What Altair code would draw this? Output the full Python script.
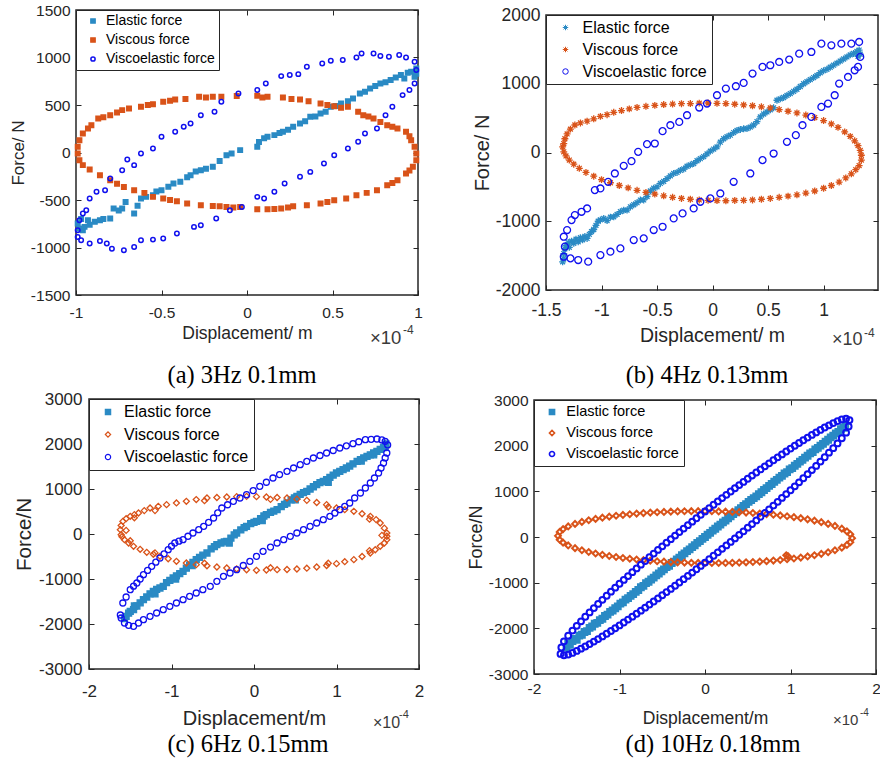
import altair as alt
import pandas as pd

# ---------------- colours / fonts ----------------
EL_COLOR = "#2a8ac4"
VI_COLOR = "#d95319"
VE_COLOR = "#1010ee"
TXT = "#262626"
SANS = "Liberation Sans"
SERIF = "Liberation Serif"
SERIES = ["Elastic force", "Viscous force", "Viscoelastic force"]
ASTERISK = "M-1,0L1,0M0,-1L0,1M-0.7,-0.7L0.7,0.7M-0.7,0.7L0.7,-0.7"

# ---------------- data: (displacement [1e-4 m], force [N]) ----------------
# (a) 3Hz 0.1mm
A_ELASTIC = [(-0.99,-748),(-0.98,-800),(-0.97,-700),(-0.96,-818),(-0.95,-783),(-0.93,-713),(-0.92,-760),
    (-0.89,-730),(-0.86,-713),(-0.84,-700),(-0.80,-695),(-0.78,-590),(-0.75,-610),(-0.73,-590),(-0.71,-520),
    (-0.66,-643),(-0.64,-560),(-0.62,-485),(-0.59,-467),(-0.55,-450),(-0.53,-410),(-0.50,-397),(-0.46,-360),
    (-0.43,-327),(-0.39,-309),(-0.35,-260),(-0.33,-239),(-0.30,-200),(-0.27,-186),(-0.24,-170),(-0.20,-151),
    (-0.16,-90),(-0.12,-28),(-0.09,-10),(-0.04,25),(0.06,60),(0.07,110),(0.10,150),(0.12,165),(0.16,183),
    (0.19,205),(0.21,218),(0.24,240),(0.27,270),(0.31,306),(0.34,330),(0.37,376),(0.40,380),(0.43,411),
    (0.46,430),(0.49,481),(0.52,490),(0.55,516),(0.59,540),(0.62,569),(0.66,622),(0.69,640),(0.72,674),
    (0.75,700),(0.78,727),(0.81,740),(0.84,762),(0.87,790),(0.90,815),(0.92,780),(0.94,840),(0.96,850),
    (0.98,797),(0.99,885),(0.99,830)]
A_VISCOUS = [(-0.99,60),(-0.98,130),(-0.96,200),(-0.93,253),(-0.91,288),(-0.87,358),(-0.84,370),(-0.80,393),
    (-0.76,420),(-0.73,446),(-0.69,464),(-0.62,481),(-0.58,500),(-0.55,509),(-0.49,534),(-0.45,545),(-0.42,558),
    (-0.36,562),(-0.28,587),(-0.24,580),(-0.20,587),(-0.15,587),(-0.06,594),(0.06,597),(0.09,580),(0.12,587),
    (0.21,580),(0.26,562),(0.31,558),(0.36,540),(0.43,516),(0.47,500),(0.51,488),(0.55,470),(0.59,481),
    (0.65,428),(0.68,393),(0.71,380),(0.74,358),(0.78,320),(0.82,288),(0.85,270),(0.88,253),(0.93,218),
    (0.95,170),(0.96,130),(0.98,60),(0.99,-10),(0.99,-81),(0.97,-151),(0.95,-190),(0.93,-221),(0.88,-292),
    (0.85,-320),(0.82,-344),(0.76,-397),(0.70,-425),(0.64,-450),(0.58,-485),(0.51,-502),(0.47,-520),
    (0.43,-537),(0.35,-555),(0.27,-566),(0.24,-580),(0.20,-590),(0.16,-595),(0.12,-597),(0.06,-597),
    (-0.04,-573),(-0.08,-580),(-0.12,-573),(-0.16,-565),(-0.20,-562),(-0.27,-555),(-0.35,-537),(-0.41,-513),
    (-0.45,-500),(-0.49,-485),(-0.55,-467),(-0.60,-425),(-0.66,-397),(-0.72,-362),(-0.76,-330),(-0.80,-292),
    (-0.86,-239),(-0.92,-179),(-0.96,-133),(-0.98,-81),(-0.99,-10)]
A_VISCOELASTIC = [(-0.99,-818),(-0.98,-713),(-0.96,-643),(-0.94,-608),(-0.92,-485),(-0.88,-414),(-0.83,-397),
    (-0.80,-274),(-0.73,-186),(-0.70,-74),(-0.66,-133),(-0.62,-10),(-0.55,42),(-0.50,165),(-0.42,218),
    (-0.37,270),(-0.33,306),(-0.27,393),(-0.19,428),(-0.15,534),(-0.05,622),(0.06,657),(0.11,727),(0.20,804),
    (0.25,815),(0.30,825),(0.35,903),(0.44,938),(0.49,966),(0.56,973),(0.64,1001),(0.67,1043),(0.74,1043),
    (0.78,1015),(0.83,1008),(0.89,1026),(0.93,1001),(0.98,955),(0.99,868),(0.98,727),(0.95,657),(0.91,604),
    (0.85,481),(0.81,393),(0.76,253),(0.69,200),(0.65,112),(0.59,42),(0.51,-28),(0.45,-116),(0.37,-204),
    (0.31,-256),(0.22,-327),(0.16,-414),(0.10,-485),(0.06,-467),(-0.03,-573),(-0.10,-608),(-0.18,-695),
    (-0.27,-766),(-0.31,-783),(-0.41,-853),(-0.49,-906),(-0.55,-917),(-0.62,-924),(-0.66,-994),(-0.72,-1029),
    (-0.79,-1012),(-0.82,-959),(-0.86,-931),(-0.92,-959),(-0.97,-924),(-0.99,-889)]

# (b) 4Hz 0.13mm
B_ELASTIC = [(-1.35,-1590),(-1.34,-1540),(-1.34,-1470),(-1.33,-1400),(-1.32,-1350),(-1.30,-1310),(-1.29,-1380),
    (-1.27,-1290),(-1.25,-1320),(-1.23,-1260),(-1.21,-1300),(-1.19,-1240),(-1.17,-1270),(-1.15,-1220),
    (-1.13,-1250),(-1.11,-1190),(-1.09,-1150),(-1.07,-1120),(-1.05,-1060),(-1.03,-1000),(-1.01,-980),
    (-0.98,-960),(-0.95,-990),(-0.92,-940),(-0.89,-935),(-0.86,-900),(-0.83,-860),(-0.80,-840),(-0.77,-838),
    (-0.74,-790),(-0.71,-760),(-0.68,-730),(-0.65,-692),(-0.62,-690),(-0.59,-640),(-0.56,-560),(-0.53,-520),
    (-0.50,-499),(-0.47,-450),(-0.44,-420),(-0.41,-380),(-0.38,-340),(-0.35,-305),(-0.32,-290),(-0.29,-260),
    (-0.26,-240),(-0.23,-200),(-0.20,-180),(-0.17,-160),(-0.14,-120),(-0.11,-90),(-0.08,-60),(-0.05,-20),
    (-0.02,20),(0.01,50),(0.04,82),(0.07,150),(0.10,200),(0.13,230),(0.16,252),(0.19,290),(0.22,320),
    (0.25,335),(0.28,345),(0.31,349),(0.34,370),(0.37,400),(0.40,450),(0.43,518),(0.46,560),(0.49,590),
    (0.52,620),(0.55,650),(0.58,760),(0.61,780),(0.64,800),(0.67,830),(0.70,857),(0.73,890),(0.76,920),
    (0.79,960),(0.82,1000),(0.85,1030),(0.88,1060),(0.91,1090),(0.94,1120),(0.97,1160),(1.00,1190),
    (1.03,1210),(1.06,1240),(1.09,1270),(1.12,1300),(1.15,1330),(1.18,1360),(1.21,1390),(1.24,1420),
    (1.27,1440),(1.30,1470),(1.32,1490),(1.33,1430),(1.31,1400)]
B_VISCOUS = [(-1.35,82),(-1.34,130),(-1.33,200),(-1.31,270),(-1.28,340),(-1.24,400),(-1.19,430),(-1.13,455),
    (-1.07,490),(-1.01,525),(-0.95,550),(-0.89,585),(-0.82,610),(-0.75,635),(-0.68,655),(-0.60,672),
    (-0.52,685),(-0.44,698),(-0.36,705),(-0.28,710),(-0.20,712),(-0.12,718),(-0.04,720),(0.04,716),
    (0.12,712),(0.20,702),(0.28,692),(0.36,680),(0.44,665),(0.52,648),(0.60,625),(0.68,600),(0.76,575),
    (0.84,545),(0.92,508),(1.00,465),(1.07,415),(1.13,365),(1.19,300),(1.24,235),(1.28,170),(1.31,100),
    (1.33,30),(1.34,-40),(1.34,-110),(1.32,-190),(1.29,-250),(1.25,-310),(1.20,-370),(1.14,-430),
    (1.07,-480),(1.00,-520),(0.92,-560),(0.84,-590),(0.76,-615),(0.68,-635),(0.60,-652),(0.52,-668),
    (0.44,-680),(0.36,-690),(0.28,-695),(0.20,-698),(0.12,-702),(0.04,-700),(-0.04,-695),(-0.12,-690),
    (-0.20,-680),(-0.28,-668),(-0.36,-652),(-0.44,-630),(-0.52,-605),(-0.60,-580),(-0.68,-550),(-0.76,-515),
    (-0.84,-480),(-0.92,-440),(-1.00,-395),(-1.07,-345),(-1.14,-290),(-1.20,-230),(-1.25,-170),(-1.29,-110),
    (-1.32,-50),(-1.34,10)]
B_VISCOELASTIC = [(-1.34,-1225),(-1.31,-1128),(-1.27,-983),(-1.24,-910),(-1.18,-862),(-1.13,-814),(-1.06,-547),
    (-1.01,-523),(-0.94,-426),(-0.88,-305),(-0.80,-194),(-0.73,-126),(-0.67,10),(-0.59,121),(-0.52,131),
    (-0.45,310),(-0.38,397),(-0.30,445),(-0.23,542),(-0.12,654),(-0.05,712),(0.04,833),(0.12,930),(0.21,964),
    (0.28,1012),(0.36,1148),(0.45,1245),(0.52,1269),(0.60,1317),(0.69,1351),(0.78,1438),(0.89,1462),
    (0.98,1583),(1.07,1559),(1.16,1583),(1.25,1583),(1.32,1608),(1.33,1390),(1.31,1245),(1.28,1196),
    (1.22,1099),(1.14,1002),(1.10,833),(1.04,712),(0.98,663),(0.89,518),(0.81,397),(0.75,252),(0.67,155),
    (0.55,-15),(0.45,-111),(0.34,-305),(0.19,-426),(0.07,-596),(-0.02,-668),(-0.11,-717),(-0.17,-814),
    (-0.27,-886),(-0.35,-959),(-0.45,-1080),(-0.53,-1128),(-0.62,-1249),(-0.71,-1274),(-0.83,-1395),
    (-0.92,-1443),(-1.01,-1492),(-1.12,-1588),(-1.21,-1564),(-1.28,-1540),(-1.34,-1516),(-1.33,-1370)]

# (c) 6Hz 0.15mm
C_ELASTIC = [(-1.57,-1880),(-1.55,-1830),(-1.52,-1760),(-1.50,-1720),(-1.46,-1681),(-1.42,-1600),(-1.38,-1530),
    (-1.34,-1459),(-1.30,-1400),(-1.26,-1330),(-1.22,-1274),(-1.18,-1230),(-1.14,-1200),(-1.10,-1163),
    (-1.06,-1080),(-1.02,-1030),(-0.98,-978),(-0.94,-930),(-0.90,-880),(-0.86,-830),(-0.82,-760),(-0.78,-690),
    (-0.74,-630),(-0.70,-570),(-0.66,-520),(-0.62,-470),(-0.57,-422),(-0.52,-330),(-0.48,-280),(-0.45,-237),
    (-0.40,-200),(-0.36,-175),(-0.33,-163),(-0.28,-90),(-0.24,-20),(-0.21,22),(-0.16,90),(-0.12,140),
    (-0.09,170),(-0.04,230),(0.00,260),(0.03,281),(0.08,340),(0.12,400),(0.15,430),(0.20,480),(0.24,510),
    (0.28,541),(0.33,610),(0.37,660),(0.40,689),(0.45,760),(0.49,800),(0.52,837),(0.56,880),(0.60,920),
    (0.64,948),(0.68,1000),(0.72,1050),(0.76,1096),(0.80,1140),(0.84,1170),(0.88,1207),(0.92,1260),
    (0.96,1310),(1.00,1356),(1.04,1390),(1.08,1430),(1.12,1467),(1.16,1510),(1.20,1560),(1.25,1615),
    (1.29,1650),(1.33,1690),(1.37,1726),(1.41,1760),(1.45,1800),(1.49,1837),(1.53,1880),(1.57,1920),
    (1.59,1948),(1.60,2000),(-1.45,-1600),(-1.20,-1330),(-0.95,-1000),(-0.75,-700),(0.50,760),(0.90,1150),
    (1.30,1620),(1.45,1760),(-0.30,-200),(0.10,300)]
C_VISCOUS = [(-1.62,96),(-1.61,190),(-1.59,281),(-1.55,340),(-1.50,393),(-1.45,430),(-1.40,467),(-1.33,520),
    (-1.26,578),(-1.16,615),(-1.06,652),(-0.94,690),(-0.82,726),(-0.70,765),(-0.57,800),(-0.45,812),
    (-0.33,822),(-0.21,830),(-0.09,837),(0.03,830),(0.15,822),(0.28,812),(0.40,800),(0.52,775),(0.64,748),
    (0.76,700),(0.88,652),(1.00,578),(1.10,540),(1.21,504),(1.31,450),(1.41,393),(1.48,320),(1.53,244),
    (1.58,130),(1.61,22),(1.61,-50),(1.61,-126),(1.58,-200),(1.53,-274),(1.47,-350),(1.41,-422),(1.31,-500),
    (1.21,-570),(1.10,-615),(1.00,-659),(0.88,-700),(0.76,-733),(0.64,-760),(0.52,-778),(0.40,-788),
    (0.28,-793),(0.15,-800),(0.03,-807),(-0.09,-795),(-0.21,-778),(-0.33,-755),(-0.45,-733),(-0.57,-707),
    (-0.70,-681),(-0.82,-645),(-0.94,-607),(-1.04,-550),(-1.14,-496),(-1.22,-450),(-1.30,-407),(-1.38,-340),
    (-1.46,-274),(-1.52,-200),(-1.57,-126),(-1.60,-60),(-1.61,-15),(-1.55,80),(-1.45,360),(-1.20,520),
    (-0.60,740),(0.20,770),(0.90,600),(1.40,330),(1.55,-30),(1.40,-370),(0.90,-650),(0.20,-750),(-0.60,-650),
    (-1.20,-420),(-1.50,-150)]
C_VISCOELASTIC = [(-1.62,-1800),(-1.59,-1533),(-1.55,-1400),(-1.50,-1237),(-1.46,-1160),(-1.42,-1089),
    (-1.38,-1000),(-1.34,-904),(-1.29,-810),(-1.24,-719),(-1.19,-625),(-1.14,-533),(-1.09,-440),(-1.04,-348),
    (-1.00,-270),(-0.96,-200),(-0.91,-160),(-0.86,-126),(-0.80,-50),(-0.74,22),(-0.67,96),(-0.61,170),
    (-0.55,260),(-0.49,356),(-0.44,470),(-0.39,578),(-0.32,650),(-0.25,726),(-0.17,800),(-0.09,874),
    (-0.01,965),(0.07,1059),(0.15,1150),(0.23,1244),(0.31,1320),(0.40,1393),(0.48,1467),(0.56,1541),
    (0.64,1615),(0.72,1689),(0.80,1745),(0.88,1800),(0.96,1856),(1.04,1911),(1.12,1960),(1.20,2007),
    (1.27,2050),(1.35,2096),(1.42,2105),(1.49,2111),(1.55,2090),(1.59,2059),(1.62,1980),(1.61,1800),
    (1.59,1690),(1.57,1578),(1.54,1467),(1.51,1356),(1.46,1245),(1.41,1133),(1.35,1022),(1.29,911),
    (1.22,800),(1.16,689),(1.10,615),(1.04,541),(0.98,467),(0.92,393),(0.84,318),(0.76,244),(0.68,170),
    (0.60,96),(0.52,22),(0.44,-52),(0.36,-126),(0.28,-200),(0.20,-290),(0.11,-385),(0.03,-496),(-0.05,-607),
    (-0.13,-700),(-0.21,-793),(-0.29,-867),(-0.37,-941),(-0.45,-1052),(-0.53,-1163),(-0.62,-1237),
    (-0.70,-1311),(-0.78,-1385),(-0.86,-1459),(-0.94,-1533),(-1.02,-1607),(-1.10,-1681),(-1.18,-1756),
    (-1.26,-1830),(-1.34,-1904),(-1.40,-1978),(-1.46,-2052),(-1.52,-2030),(-1.57,-1978),(-1.61,-1867)]

# (d) 10Hz 0.18mm
D_ELASTIC = [(-1.62,-2420),(-1.60,-2330),(-1.58,-2360),(-1.55,-2280),(-1.52,-2230),(-1.50,-2250),(-1.47,-2160),
    (-1.44,-2140),(-1.41,-2080),(-1.38,-2060),(-1.35,-1990),(-1.32,-1960),(-1.29,-1900),(-1.26,-1880),
    (-1.23,-1820),(-1.20,-1790),(-1.17,-1730),(-1.14,-1700),(-1.11,-1640),(-1.08,-1610),(-1.05,-1560),
    (-1.02,-1520),(-0.99,-1460),(-0.96,-1430),(-0.93,-1370),(-0.90,-1340),(-0.87,-1290),(-0.84,-1250),
    (-0.81,-1200),(-0.78,-1160),(-0.75,-1100),(-0.72,-1070),(-0.69,-1010),(-0.66,-980),(-0.63,-930),
    (-0.60,-890),(-0.57,-840),(-0.54,-800),(-0.51,-750),(-0.48,-710),(-0.45,-660),(-0.42,-630),(-0.39,-570),
    (-0.36,-540),(-0.33,-490),(-0.30,-450),(-0.27,-400),(-0.24,-360),(-0.21,-310),(-0.18,-270),(-0.15,-220),
    (-0.12,-180),(-0.09,-130),(-0.06,-90),(-0.03,-40),(0.00,0),(0.03,50),(0.06,90),(0.09,140),(0.12,180),
    (0.15,230),(0.18,270),(0.21,320),(0.24,360),(0.27,410),(0.30,450),(0.33,500),(0.36,540),(0.39,590),
    (0.42,630),(0.45,680),(0.48,720),(0.51,770),(0.54,810),(0.57,850),(0.60,890),(0.63,940),(0.66,980),
    (0.69,1030),(0.72,1070),(0.75,1120),(0.78,1160),(0.81,1210),(0.84,1250),(0.87,1300),(0.90,1340),
    (0.93,1390),(0.96,1420),(0.99,1480),(1.02,1510),(1.05,1560),(1.08,1600),(1.11,1650),(1.14,1690),
    (1.17,1740),(1.20,1780),(1.23,1830),(1.26,1860),(1.29,1920),(1.32,1950),(1.35,2000),(1.38,2040),
    (1.41,2090),(1.44,2130),(1.47,2180),(1.50,2220),(1.53,2270),(1.56,2300),(1.59,2360),(1.62,2390),(1.64,2440)]
D_VISCOUS = [(-1.72,25),(-1.70,111),(-1.66,173),(-1.60,231),(-1.52,287),(-1.44,331),(-1.36,366),(-1.28,396),
    (-1.20,423),(-1.12,446),(-1.04,466),(-0.96,483),(-0.88,498),(-0.80,512),(-0.72,524),(-0.64,534),
    (-0.56,542),(-0.48,549),(-0.40,556),(-0.32,560),(-0.24,563),(-0.16,565),(-0.08,565),(0.00,565),
    (0.08,563),(0.16,560),(0.24,555),(0.32,550),(0.40,544),(0.48,535),(0.56,526),(0.64,514),(0.72,502),
    (0.80,488),(0.88,472),(0.96,455),(1.04,435),(1.12,412),(1.20,387),(1.28,358),(1.36,325),(1.44,287),
    (1.52,242),(1.60,183),(1.66,123),(1.70,61),(1.72,-25),(1.70,-113),(1.66,-174),(1.60,-233),(1.52,-290),
    (1.44,-334),(1.36,-369),(1.28,-400),(1.20,-426),(1.12,-450),(1.04,-470),(0.97,-420),(0.95,-400),
    (0.96,-487),(0.88,-503),(0.80,-516),(0.72,-529),(0.64,-539),(0.56,-547),(0.48,-554),(0.40,-561),
    (0.32,-565),(0.24,-568),(0.16,-570),(0.08,-570),(0.00,-570),(-0.08,-568),(-0.16,-566),(-0.24,-560),
    (-0.32,-555),(-0.40,-549),(-0.48,-540),(-0.56,-531),(-0.64,-519),(-0.72,-507),(-0.80,-492),(-0.88,-477),
    (-0.96,-459),(-1.04,-438),(-1.12,-416),(-1.20,-390),(-1.28,-362),(-1.36,-329),(-1.44,-290),(-1.52,-244),
    (-1.60,-185),(-1.66,-124),(-1.70,-61)]
D_VISCOELASTIC = [(-1.68,-2420),(-1.65,-2284),(-1.60,-2162),(-1.55,-2049),(-1.50,-1946),(-1.45,-1846),
    (-1.40,-1747),(-1.35,-1651),(-1.30,-1557),(-1.25,-1465),(-1.20,-1375),(-1.15,-1286),(-1.10,-1197),
    (-1.05,-1110),(-1.00,-1024),(-0.95,-939),(-0.90,-855),(-0.85,-771),(-0.80,-688),(-0.75,-606),(-0.70,-525),
    (-0.65,-444),(-0.60,-363),(-0.55,-283),(-0.50,-204),(-0.45,-125),(-0.40,-47),(-0.35,31),(-0.30,108),
    (-0.25,184),(-0.20,260),(-0.15,336),(-0.10,411),(-0.05,486),(0.00,560),(0.05,634),(0.10,707),(0.15,780),
    (0.20,852),(0.25,924),(0.30,996),(0.35,1067),(0.40,1137),(0.45,1207),(0.50,1276),(0.55,1345),(0.60,1413),
    (0.65,1480),(0.70,1547),(0.75,1614),(0.80,1680),(0.85,1745),(0.90,1809),(0.95,1873),(1.00,1936),
    (1.05,1998),(1.10,2059),(1.15,2118),(1.20,2177),(1.25,2235),(1.30,2291),(1.35,2345),(1.40,2397),
    (1.45,2446),(1.50,2494),(1.55,2539),(1.60,2574),(1.65,2590),(1.69,2560),
    (1.68,2420),(1.65,2284),(1.60,2162),(1.55,2049),(1.50,1946),(1.45,1846),(1.40,1747),(1.35,1651),
    (1.30,1557),(1.25,1465),(1.20,1375),(1.15,1286),(1.10,1197),(1.05,1110),(1.00,1024),(0.95,939),
    (0.90,855),(0.85,771),(0.80,688),(0.75,606),(0.70,525),(0.65,444),(0.60,363),(0.55,283),(0.50,204),
    (0.45,125),(0.40,47),(0.35,-31),(0.30,-108),(0.25,-184),(0.20,-260),(0.15,-336),(0.10,-411),(0.05,-486),
    (0.00,-560),(-0.05,-634),(-0.10,-707),(-0.15,-780),(-0.20,-852),(-0.25,-924),(-0.30,-996),(-0.35,-1067),
    (-0.40,-1137),(-0.45,-1207),(-0.50,-1276),(-0.55,-1345),(-0.60,-1413),(-0.65,-1480),(-0.70,-1547),
    (-0.75,-1614),(-0.80,-1680),(-0.85,-1745),(-0.90,-1809),(-0.95,-1873),(-1.00,-1936),(-1.05,-1998),
    (-1.10,-2059),(-1.15,-2118),(-1.20,-2177),(-1.25,-2235),(-1.30,-2291),(-1.35,-2345),(-1.40,-2397),
    (-1.45,-2446),(-1.50,-2494),(-1.55,-2539),(-1.60,-2574),(-1.65,-2590),(-1.69,-2560)]

# ---------------- axes ticks / domains ----------------
A_XDOM, A_YDOM = [-1, 1], [-1500, 1500]
A_XTICKS = [-1, -0.5, 0, 0.5, 1]
A_YTICKS = [-1500, -1000, -500, 0, 500, 1000, 1500]
B_XDOM, B_YDOM = [-1.5, 1.49], [-2000, 2000]
B_XTICKS = [-1.5, -1, -0.5, 0, 0.5, 1]
B_YTICKS = [-2000, -1000, 0, 1000, 2000]
CD_XDOM, CD_YDOM = [-2, 2], [-3000, 3000]
CD_XTICKS = [-2, -1, 0, 1, 2]
CD_YTICKS = [-3000, -2000, -1000, 0, 1000, 2000, 3000]

W, H = 880, 762   # whole figure; every panel is placed inside it by its pixel box


def text_layer(text, x, y, size, font=SANS, color=TXT, align="left", baseline="middle"):
    return alt.Chart(pd.DataFrame({"t": [text]})).mark_text(
        font=font, fontSize=size, color=color, align=align, baseline=baseline
    ).encode(x=alt.value(x), y=alt.value(y), text="t:N")


def panel(el, vi, ve, xdom, ydom, xticks, yticks, box, st):
    x0, y0, x1, y1 = box          # plot box in figure pixels
    rows = []
    for name, pts in zip(SERIES, (el, vi, ve)):
        for x, f in pts:
            rows.append({"x": x, "F": f, "series": name})
    df = pd.DataFrame(rows)
    xs = alt.Scale(domain=xdom, range=[x0, x1], nice=False, zero=False)
    ys = alt.Scale(domain=ydom, range=[y1, y0], nice=False, zero=False)
    leg = alt.Legend(title=None, orient="none", legendX=x0, legendY=y0, padding=st["lpad"], strokeColor=TXT,
                     fillColor="white", labelFont=SANS, labelFontSize=st["lfs"], labelColor="black",
                     rowPadding=st["lrow"], symbolOffset=st["soff"], labelOffset=st["loff"],
                     symbolSize=st["ssize"], symbolStrokeWidth=st["lsw"], cornerRadius=0)
    common = dict(labelFont=SANS, labelColor=TXT, tickColor=TXT, tickSize=5, tickWidth=1,
                  domain=False, grid=False, labelOverlap=False)
    xaxis = alt.Axis(orient="bottom", offset=(y1 - 5) - H, values=xticks, labelExpr="'' + datum.value",
                     labelFlush=False, labelFontSize=st["tfs"], labelBaseline="middle", labelPadding=st["xlp"],
                     title=st["xtitle"], titleFont=SANS, titleFontSize=st["xtfs"], titleFontWeight="normal",
                     titleColor=TXT, titleX=(x0 + x1) / 2, titleY=st["xty"] - (y1 - 5), titleBaseline="middle",
                     titleAlign="center", **common)
    yaxis = alt.Axis(orient="left", offset=-(x0 + 5), values=yticks, labelExpr="'' + datum.value",
                     labelFlush=False, labelFontSize=st["tfs"], labelPadding=st["ylp"],
                     title=st["ytitle"], titleFont=SANS, titleFontSize=st["ytfs"], titleFontWeight="normal",
                     titleColor=TXT, titleX=st["ytx"] - (x0 + 5), titleY=(y0 + y1) / 2, titleAngle=270,
                     titleBaseline="middle", titleAlign="center", **common)
    box_layer = alt.Chart(pd.DataFrame({"t": [0]})).mark_rect(
        filled=False, stroke=TXT, strokeWidth=1.5
    ).encode(x=alt.value(x0), x2=alt.value(x1), y=alt.value(y0), y2=alt.value(y1))
    pts = alt.Chart(df).mark_point(filled=False, opacity=1, size=st["size"], strokeWidth=st["sw"]).encode(
        x=alt.X("x:Q", scale=xs, axis=xaxis),
        y=alt.Y("F:Q", scale=ys, axis=yaxis),
        stroke=alt.Stroke("series:N", scale=alt.Scale(domain=SERIES, range=[EL_COLOR, VI_COLOR, VE_COLOR]), legend=leg),
        fill=alt.Fill("series:N", scale=alt.Scale(domain=SERIES, range=st["fills"]), legend=leg),
        shape=alt.Shape("series:N", scale=alt.Scale(domain=SERIES, range=st["shapes"]), legend=leg),
    )
    mirror = alt.Chart(pd.DataFrame({"x": xdom, "F": ydom})).mark_point(opacity=0, size=1).encode(
        x=alt.X("x:Q", scale=xs, axis=alt.Axis(orient="top", offset=-(y0 + 5), values=xticks, labels=False,
                                                 title=None, **common)),
        y=alt.Y("F:Q", scale=ys, axis=alt.Axis(orient="right", offset=(x1 - 5) - W, values=yticks,
                                                 labels=False, title=None, **common)),
    )
    return [box_layer, pts, mirror,
            text_layer("\u00d710", st["mx"], st["my"], st["mfs"], color="#3a3a3a"),
            text_layer("-4", st["ex"], st["ey"], st["efs"], color="#3a3a3a"),
            text_layer(st["caption"], st["cx"], st["cy"], st["cfs"], font=SERIF, color="black",
                       align="center", baseline="alphabetic")]


ST_A = dict(lpad=4, lfs=14, lrow=5, soff=6, loff=6, ssize=18, lsw=1.5, sw=1.5, size=20,
            fills=[EL_COLOR, VI_COLOR, "transparent"], shapes=["square", "square", "circle"],
            tfs=15.5, xlp=17, ylp=6, xtitle="Displacement/ m", xtfs=17.5, xty=333, ytitle="Force/ N", ytfs=17,
            ytx=18, mx=370, my=338, mfs=18.5, ex=403, ey=330, efs=12, caption="(a) 3Hz 0.1mm",
            cx=242, cy=383, cfs=24.5)
ST_B = dict(lpad=4.5, lfs=16, lrow=6, soff=7, loff=9, ssize=30, lsw=1, sw=1.3, size=48,
            fills=[EL_COLOR, VI_COLOR, "transparent"], shapes=[ASTERISK, ASTERISK, "circle"],
            tfs=17.5, xlp=20, ylp=6, xtitle="Displacement/ m", xtfs=19.5, xty=335, ytitle="Force/ N", ytfs=20,
            ytx=482, mx=832, my=340, mfs=18, ex=864, ey=333, efs=12, caption="(b) 4Hz 0.13mm",
            cx=707, cy=383, cfs=24.5)
ST_C = dict(lpad=5, lfs=16, lrow=6.5, soff=6, loff=8, ssize=28, lsw=1.2, sw=1.3, size=36,
            fills=[EL_COLOR, "transparent", "transparent"], shapes=["square", "diamond", "circle"],
            tfs=17, xlp=22, ylp=7, xtitle="Displacement/m", xtfs=20, xty=718, ytitle="Force/N", ytfs=20.5,
            ytx=24, mx=373, my=723, mfs=16, ex=399, ey=715, efs=11, caption="(c) 6Hz 0.15mm",
            cx=248, cy=752, cfs=24.5)
ST_D = dict(lpad=4.75, lfs=14.5, lrow=6, soff=6, loff=7, ssize=26, lsw=1.6, sw=2, size=34,
            fills=[EL_COLOR, "transparent", "transparent"], shapes=["square", "diamond", "circle"],
            tfs=15.5, xlp=14, ylp=6, xtitle="Displacement/m", xtfs=17.5, xty=718, ytitle="Force/N", ytfs=18,
            ytx=476, mx=833, my=720, mfs=15, ex=860, ey=713, efs=10, caption="(d) 10Hz 0.18mm",
            cx=713, cy=752, cfs=24.5)

layers = []
layers += panel(A_ELASTIC, A_VISCOUS, A_VISCOELASTIC, A_XDOM, A_YDOM, A_XTICKS, A_YTICKS, (76, 10, 418, 295), ST_A)
layers += panel(B_ELASTIC, B_VISCOUS, B_VISCOELASTIC, B_XDOM, B_YDOM, B_XTICKS, B_YTICKS, (546, 15, 878, 290), ST_B)
layers += panel(C_ELASTIC, C_VISCOUS, C_VISCOELASTIC, CD_XDOM, CD_YDOM, CD_XTICKS, CD_YTICKS, (89, 399, 419, 669), ST_C)
layers += panel(D_ELASTIC, D_VISCOUS, D_VISCOELASTIC, CD_XDOM, CD_YDOM, CD_XTICKS, CD_YTICKS, (534, 400, 876, 674), ST_D)

chart = alt.layer(*layers).resolve_scale(
    x="independent", y="independent", stroke="independent", fill="independent", shape="independent"
).properties(
    width=W, height=H, padding=0, background="white", autosize=alt.AutoSizeParams(type="none")
).configure_view(strokeOpacity=0)

chart.save("out.html", embed_options={"renderer": "svg", "actions": False})
